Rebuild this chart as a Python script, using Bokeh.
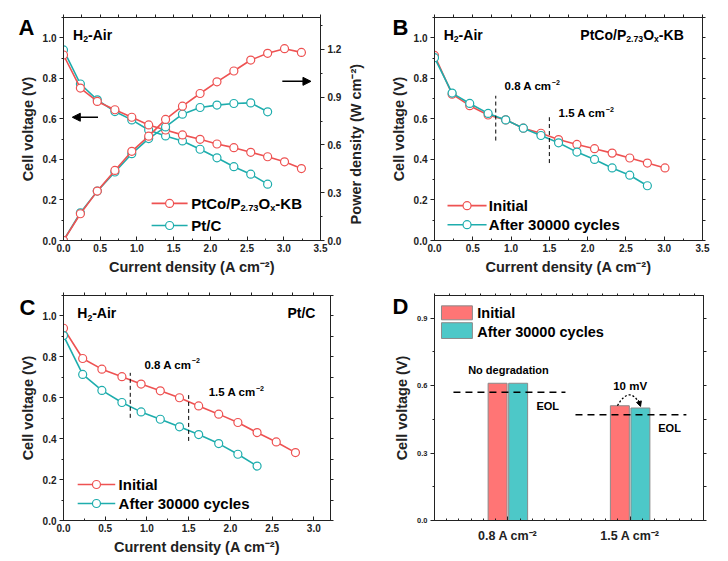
import math
from bokeh.plotting import figure
from bokeh.models import (Range1d, LinearAxis, SingleIntervalTicker, FixedTicker, Title,
                          Arrow, NormalHead, ColumnDataSource, PrintfTickFormatter)
from bokeh.layouts import column, row
from bokeh.embed import file_html
from bokeh.resources import INLINE
from bokeh.core.properties import value
from bokeh.transform import dodge

FONT = "Liberation Sans"
RED = "#EE5252"
TEAL = "#1EADAD"
BAR_RED = "#FF7575"
BAR_TEAL = "#4DC8C8"
INK = "#222222"

# ---------------- Panel A data ----------------
a_current_ptco = [0.00, 0.23, 0.46, 0.70, 0.93, 1.16, 1.39, 1.62, 1.86, 2.09, 2.32, 2.55, 2.78, 3.01, 3.24]
a_voltage_ptco = [0.915, 0.752, 0.686, 0.645, 0.608, 0.570, 0.545, 0.521, 0.499, 0.476, 0.458, 0.435, 0.413, 0.388, 0.355]
a_power_ptco = [0.0, 0.168, 0.310, 0.440, 0.560, 0.655, 0.760, 0.843, 0.923, 0.996, 1.064, 1.133, 1.175, 1.204, 1.181]
a_current_ptc = [0.00, 0.23, 0.46, 0.70, 0.93, 1.16, 1.39, 1.62, 1.86, 2.09, 2.32, 2.55, 2.78]
a_voltage_ptc = [0.940, 0.772, 0.694, 0.636, 0.595, 0.545, 0.516, 0.491, 0.450, 0.408, 0.364, 0.327, 0.278]
a_power_ptc = [0.0, 0.174, 0.310, 0.430, 0.545, 0.640, 0.713, 0.793, 0.835, 0.850, 0.860, 0.864, 0.808]

# ---------------- Panel B data (PtCo/P2.73Ox-KB) ----------------
b_current_init = [0.00, 0.23, 0.46, 0.70, 0.93, 1.16, 1.39, 1.62, 1.86, 2.09, 2.32, 2.55, 2.78, 3.01]
b_voltage_init = [0.913, 0.722, 0.665, 0.619, 0.595, 0.554, 0.529, 0.498, 0.474, 0.453, 0.431, 0.407, 0.382, 0.358]
b_current_after = [0.00, 0.23, 0.46, 0.70, 0.93, 1.16, 1.39, 1.62, 1.86, 2.09, 2.32, 2.55, 2.78]
b_voltage_after = [0.902, 0.727, 0.676, 0.627, 0.595, 0.554, 0.518, 0.482, 0.436, 0.400, 0.358, 0.322, 0.270]

# ---------------- Panel C data (Pt/C) ----------------
c_current_init = [0.00, 0.23, 0.46, 0.70, 0.93, 1.16, 1.39, 1.62, 1.86, 2.09, 2.32, 2.55, 2.78]
c_voltage_init = [0.940, 0.792, 0.740, 0.703, 0.667, 0.634, 0.600, 0.560, 0.520, 0.479, 0.430, 0.384, 0.332]
c_current_after = [0.00, 0.23, 0.46, 0.70, 0.93, 1.16, 1.39, 1.62, 1.86, 2.09, 2.32]
c_voltage_after = [0.904, 0.714, 0.636, 0.577, 0.531, 0.495, 0.458, 0.420, 0.376, 0.324, 0.266]

# marked current densities
marker_currents = [0.8, 1.5]

# ---------------- Panel D data ----------------
d_categories = ["0.8 A cm\u207b\u00b2", "1.5 A cm\u207b\u00b2"]
d_initial = [0.61, 0.51]
d_after = [0.61, 0.50]
d_eol = [0.57, 0.47]

# Arial-Bold-like advance widths (per 1000 em)
W = {' ': 278, '(': 333, ')': 333, '-': 333, '.': 278, '/': 278, '\u2212': 584,
     'A': 722, 'B': 722, 'C': 722, 'H': 722, 'K': 722, 'O': 778, 'P': 667, 'E': 667,
     'L': 611, 'N': 722, 'V': 667, 'W': 944, 'i': 278, 'r': 389, 't': 333, 'o': 611,
     'x': 556, 'c': 556, 'm': 889, 'l': 278, 'e': 556, 'y': 556, 's': 556, 'f': 333,
     'n': 611, 'a': 556, 'd': 611, 'g': 611}


def text_width(s, size):
    return sum(W.get(ch, 556) for ch in s) * size / 1000.0


def rich(p, x, y, parts, size, align="left", color="black"):
    pieces = []
    total = 0.0
    for txt, kind in parts:
        fs = size * 0.62 if kind != "n" else size
        pieces.append((txt, kind, fs, total))
        total += text_width(txt, fs)
    shift = {"left": 0.0, "right": -total, "center": -total / 2}[align]
    for txt, kind, fs, off in pieces:
        dy = {"n": 0.0, "sub": 0.33 * size, "sup": -0.36 * size}[kind]
        p.text(x=[x], y=[y], text=[txt], x_offset=off + shift, y_offset=dy,
               text_font=value(FONT), text_font_style="bold",
               text_font_size=f"{fs:.1f}px", text_color=color,
               text_align="left", text_baseline="middle")


def plain(p, x, y, txt, size, align="left", color="black"):
    p.text(x=[x], y=[y], text=[txt], text_font=value(FONT), text_font_style="bold",
           text_font_size=f"{size}px", text_color=color, text_align=align,
           text_baseline="middle")


def style_axis(ax, label_size="10px", inward=False):
    ax.axis_line_color = INK
    ax.axis_line_width = 1
    ax.major_tick_line_color = INK
    ax.minor_tick_line_color = INK
    if inward:
        ax.major_tick_out, ax.major_tick_in = 0, 4
        ax.minor_tick_out, ax.minor_tick_in = 0, 2
    else:
        ax.major_tick_out, ax.major_tick_in = 4, 0
        ax.minor_tick_out, ax.minor_tick_in = 2, 0
    ax.major_label_text_font = FONT
    ax.major_label_text_font_style = "bold"
    ax.major_label_text_color = INK
    ax.major_label_text_font_size = label_size
    ax.major_label_standoff = 3
    ax.axis_label_text_font = FONT
    ax.axis_label_text_font_style = "bold"
    ax.axis_label_text_font_size = "14.5px"
    ax.axis_label_text_color = INK
    ax.axis_label_standoff = 4


def mirror(p, side, start, end, step, tick_len=3):
    n = int(round((end - start) / step))
    ticks = [round(start + i * step, 6) for i in range(n + 1)]
    ax = LinearAxis(ticker=FixedTicker(ticks=[], minor_ticks=ticks))
    ax.axis_line_color = INK
    ax.minor_tick_line_color = INK
    ax.minor_tick_line_width = 1
    ax.minor_tick_out = tick_len
    ax.minor_tick_in = 0
    ax.major_tick_out = 0
    ax.major_tick_in = 0
    p.add_layout(ax, side)


def make_fig(width, height, x_range, y_range, borders):
    l, r, t, b = borders
    p = figure(width=width, height=height, x_range=x_range, y_range=y_range,
               output_backend="svg", toolbar_location=None,
               min_border_left=l, min_border_right=r, min_border_top=t, min_border_bottom=b)
    p.xgrid.visible = False
    p.ygrid.visible = False
    p.outline_line_color = INK
    p.background_fill_color = "white"
    p.border_fill_color = "white"
    return p


def setup_axes(p, xint, yint, ylabel="Cell voltage (V)", xlabel="Current density (A cm\u207b\u00b2)"):
    xa = p.below[0]
    ya = p.left[0]
    xa.ticker = SingleIntervalTicker(interval=xint, num_minor_ticks=2)
    ya.ticker = SingleIntervalTicker(interval=yint, num_minor_ticks=2)
    xa.formatter = PrintfTickFormatter(format="%.1f")
    ya.formatter = PrintfTickFormatter(format="%.1f")
    style_axis(xa, inward=True)
    style_axis(ya)
    xa.axis_label = xlabel
    ya.axis_label = ylabel


def series(p, x, y, color, y_range_name="default"):
    p.line(x, y, line_color=color, line_width=1.6, y_range_name=y_range_name)
    p.scatter(x, y, marker="circle", size=8, fill_color="white", line_color=color,
              line_width=1.2, y_range_name=y_range_name)


def legend_item(p, x0, x1, y, color, parts, size=15, text_x=None):
    p.line([x0, x1], [y, y], line_color=color, line_width=1.6)
    p.scatter([(x0 + x1) / 2], [y], marker="circle", size=8, fill_color="white",
              line_color=color, line_width=1.2)
    rich(p, text_x, y, parts, size)


def panel_letter(p, txt, offset, standoff):
    p.add_layout(Title(text=txt, align="left", offset=offset, standoff=standoff,
                       text_font=FONT, text_font_style="bold", text_font_size="22px",
                       text_color="black"), "above")


H2AIR = [("H", "n"), ("2", "sub"), ("-Air", "n")]
PTCO = [("PtCo/P", "n"), ("2.73", "sub"), ("O", "n"), ("x", "sub"), ("-KB", "n")]


def UNIT(v):
    return [(v + " A cm", "n"), ("\u22122", "sup")]


# ======================= Panel A =======================
pA = make_fig(375, 278, Range1d(0, 3.5), Range1d(0, 1.1), (63, 52, 17, 38))
pA.extra_y_ranges = {"pd": Range1d(0, 1.4)}
setup_axes(pA, 0.5, 0.2)
ra = LinearAxis(y_range_name="pd", ticker=SingleIntervalTicker(interval=0.3, num_minor_ticks=2),
                formatter=PrintfTickFormatter(format="%.1f"))
style_axis(ra)
props = LinearAxis.properties()
if "axis_label_orientation" in props and "axis_label_align" in props:
    ra.axis_label = "\u00a0\u00a0\u00a0\u00a0Power density (W cm\u207b\u00b2)"
    ra.axis_label_orientation = math.pi / 2
    ra.axis_label_align = "start"
    ra.axis_label_standoff = 12
else:
    ra.axis_label = "Power density (W cm\u207b\u00b2)"
pA.add_layout(ra, "right")
mirror(pA, "above", 0, 3.5, 0.25)

series(pA, a_current_ptc, a_voltage_ptc, TEAL)
series(pA, a_current_ptco, a_voltage_ptco, RED)
series(pA, a_current_ptc, a_power_ptc, TEAL, "pd")
series(pA, a_current_ptco, a_power_ptco, RED, "pd")

pA.add_layout(Arrow(end=NormalHead(size=8, fill_color="black", line_color="black"),
                    x_start=0.47, y_start=0.608, x_end=0.12, y_end=0.608,
                    line_color="black", line_width=1.5))
pA.add_layout(Arrow(end=NormalHead(size=8, fill_color="black", line_color="black"),
                    x_start=2.98, y_start=0.785, x_end=3.37, y_end=0.785,
                    line_color="black", line_width=1.5))
rich(pA, 0.13, 1.016, H2AIR, 14)
legend_item(pA, 1.20, 1.69, 0.183, RED, PTCO, text_x=1.74)
legend_item(pA, 1.20, 1.69, 0.074, TEAL, [("Pt/C", "n")], text_x=1.74)
panel_letter(pA, "A", -45, -50)

# ======================= Panel B =======================
pB = make_fig(351, 278, Range1d(0, 3.5), Range1d(0, 1.1), (59, 24, 17, 38))
setup_axes(pB, 0.5, 0.2)
mirror(pB, "above", 0, 3.5, 0.25)
mirror(pB, "right", 0, 1.1, 0.1)
series(pB, b_current_init, b_voltage_init, RED)
series(pB, b_current_after, b_voltage_after, TEAL)
pB.segment(x0=marker_currents, x1=marker_currents, y0=[0.493, 0.382], y1=[0.714, 0.608],
           line_color="black", line_width=1, line_dash="4 3")
rich(pB, 0.915, 0.76, UNIT("0.8"), 11.5)
rich(pB, 1.62, 0.627, UNIT("1.5"), 11.5)
rich(pB, 0.12, 1.015, H2AIR, 14)
rich(pB, 3.255, 1.015, PTCO, 14, align="right")
legend_item(pB, 0.17, 0.68, 0.172, RED, [("Initial", "n")], text_x=0.71)
legend_item(pB, 0.17, 0.68, 0.078, TEAL, [("After 30000 cycles", "n")], text_x=0.71)
panel_letter(pB, "B", -42, -50)

# ======================= Panel C =======================
pC = make_fig(368, 281, Range1d(0, 3.2), Range1d(0, 1.1), (63, 38, 17, 39))
setup_axes(pC, 0.5, 0.2)
mirror(pC, "above", 0, 3.2, 0.25)
mirror(pC, "right", 0, 1.1, 0.1)
series(pC, c_current_init, c_voltage_init, RED)
series(pC, c_current_after, c_voltage_after, TEAL)
pC.segment(x0=marker_currents, x1=marker_currents, y0=[0.502, 0.389], y1=[0.722, 0.613],
           line_color="black", line_width=1, line_dash="4 3")
rich(pC, 0.97, 0.76, UNIT("0.8"), 11.5)
rich(pC, 1.74, 0.627, UNIT("1.5"), 11.5)
rich(pC, 0.165, 1.015, H2AIR, 14)
rich(pC, 3.02, 1.015, [("Pt/C", "n")], 14, align="right")
legend_item(pC, 0.17, 0.62, 0.176, RED, [("Initial", "n")], text_x=0.66)
legend_item(pC, 0.17, 0.62, 0.083, TEAL, [("After 30000 cycles", "n")], text_x=0.66)
panel_letter(pC, "C", -44, -54)

# ======================= Panel D =======================
pD = make_fig(358, 281, Range1d(-0.1, 2.1), Range1d(0, 1.0), (66, 23, 17, 39))
d_pos = [i + 0.5 for i in range(len(d_categories))]
xa = pD.below[0]
ya = pD.left[0]
xa.ticker = FixedTicker(ticks=d_pos, minor_ticks=[i / 10 for i in range(0, 21)])
xa.major_label_overrides = {d_pos[i]: d_categories[i] for i in range(len(d_categories))}
ya.ticker = SingleIntervalTicker(interval=0.3, num_minor_ticks=2)
ya.formatter = PrintfTickFormatter(format="%.1f")
style_axis(xa, label_size="12.5px", inward=True)
style_axis(ya, label_size="7.5px")
xa.major_label_standoff = 8
ya.axis_label = "Cell voltage (V)"
mirror(pD, "above", -0.1, 2.1, 0.125, tick_len=2)
mirror(pD, "right", 0, 1.0, 0.15)

srcD = ColumnDataSource(dict(pos=d_pos, init=d_initial, after=d_after))
pD.vbar(x=dodge("pos", -0.084), top="init", width=0.155, source=srcD,
        fill_color=BAR_RED, line_color="#8a8a8a", line_width=1)
pD.vbar(x=dodge("pos", 0.084), top="after", width=0.155, source=srcD,
        fill_color=BAR_TEAL, line_color="#8a8a8a", line_width=1)
pD.line([0.055, 0.971], [d_eol[0], d_eol[0]], line_color="black", line_width=1.5, line_dash="7 5")
pD.line([1.053, 1.96], [d_eol[1], d_eol[1]], line_color="black", line_width=1.5, line_dash="7 5")
plain(pD, 0.505, 0.669, "No degradation", 11, align="center")
plain(pD, 0.734, 0.511, "EOL", 11)
plain(pD, 1.73, 0.41, "EOL", 11)
plain(pD, 1.50, 0.598, "10 mV", 11.5, align="center")
pD.quadratic(x0=[1.396], y0=[d_initial[1]], x1=[1.575], y1=[0.522], cx=[1.49], cy=[0.60],
             line_color="black", line_width=1.3, line_dash="2 2")
pD.add_layout(Arrow(end=NormalHead(size=5, fill_color="black", line_color="black"),
                    x_start=1.568, y_start=0.535, x_end=1.585, y_end=0.507,
                    line_color="black", line_width=1))
pD.quad(left=[-0.043], right=[0.21], bottom=[0.892], top=[0.954],
        fill_color=BAR_RED, line_color="#8a8a8a", line_width=1)
pD.quad(left=[-0.043], right=[0.21], bottom=[0.809], top=[0.879],
        fill_color=BAR_TEAL, line_color="#8a8a8a", line_width=1)
plain(pD, 0.25, 0.923, "Initial", 14.5)
plain(pD, 0.25, 0.840, "After 30000 cycles", 14.5)
panel_letter(pD, "D", -42, -50)

layout = column(row(pA, pB), row(pC, pD))
open("out.html", "w").write(file_html(layout, INLINE))
